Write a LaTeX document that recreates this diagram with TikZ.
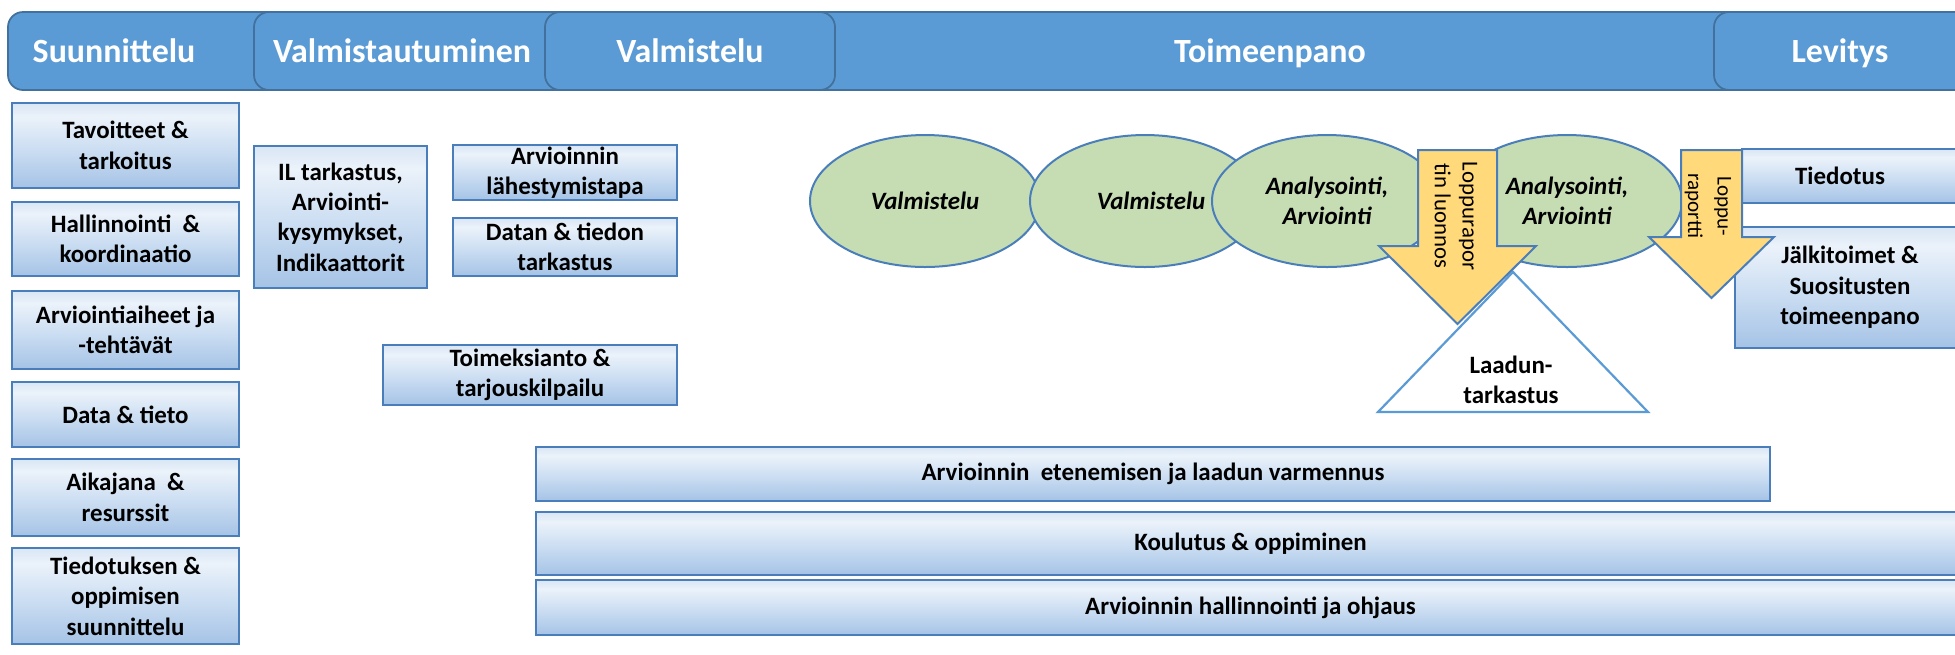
\documentclass[tikz,border=0pt]{standalone}
\usepackage{fontspec}
\setmainfont{Carlito}
\usetikzlibrary{shapes.geometric}
\newlength\pxl
\setlength\pxl{0.02cm}
\definecolor{hdr}{HTML}{5B9BD5}
\definecolor{hdrline}{HTML}{41719C}
\definecolor{boxline}{HTML}{4A7EBB}
\definecolor{gbot}{HTML}{A5C3E6}
\definecolor{gmid}{HTML}{CFE0F3}
\definecolor{glight}{HTML}{EBF2FA}
\definecolor{gtop}{HTML}{D9E6F5}
\definecolor{ellfill}{HTML}{C6DDB4}
\definecolor{arrfill}{HTML}{FFD97A}
\definecolor{triline}{HTML}{5B9BD5}
\pgfdeclareverticalshading{boxgrad}{100bp}{color(0bp)=(gbot); color(25bp)=(gbot); color(50bp)=(gmid); color(67bp)=(glight); color(75bp)=(gtop); color(100bp)=(gtop)}
\newcommand\bodyfont{\fontsize{14.2pt}{17.3pt}\selectfont\bfseries}
\newcommand\hdrfont{\fontsize{19.3pt}{23pt}\selectfont\bfseries}
\newcommand\arrfont{\fontsize{13pt}{15.9pt}\selectfont}
\newcommand\arrfontb{\fontsize{12pt}{16.8pt}\selectfont}
\begin{document}
\begin{tikzpicture}[x=0.02cm, y=-0.02cm,
  tab/.style={draw=hdrline, line width=1pt, fill=hdr, rounded corners=0.3cm},
  hdrtext/.style={text=white, font=\hdrfont, anchor=base, inner sep=0pt},
  box/.style={draw=boxline, line width=2.2\pxl, shade, shading=boxgrad, inner sep=0pt, align=center, font=\bodyfont},
  ell/.style={ellipse, draw=boxline, line width=2\pxl, fill=ellfill, minimum width=230\pxl, minimum height=132\pxl, inner sep=0pt, align=center, font=\bodyfont\itshape},
  yarrow/.style={draw=boxline, line width=2\pxl, fill=arrfill, line join=miter},
  tri/.style={draw=triline, line width=2.2\pxl, fill=white},
  lbl/.style={font=\bodyfont, align=center, inner sep=0pt}
]
\useasboundingbox (0,0) rectangle (1955,654);
\fill[white] (0,0) rectangle (1955,654);
\clip (0,0) rectangle (1955,654);

% header tabs
\path[tab] (8,12) rectangle (320,90);
\path[tab] (254,12) rectangle (600,90);
\path[tab] (700,12) rectangle (1980,90);
\path[tab] (545,12) rectangle (835,90);
\path[tab] (1714,12) rectangle (1980,90);
\node[hdrtext] (h1) at (114,62) {Suunnittelu};
\node[hdrtext] (h2) at (402,62) {Valmistautuminen};
\node[hdrtext] (h3) at (690,62) {Valmistelu};
\node[hdrtext] (h4) at (1270,62) {Toimeenpano};
\node[hdrtext] (h5) at (1840,62) {Levitys};

% left column
\node[box, minimum width=227\pxl, minimum height=85\pxl] (tav) at (125.5,145.5) {Tavoitteet \&\\tarkoitus};
\node[box, minimum width=227\pxl, minimum height=74\pxl] (hal) at (125.5,239) {Hallinnointi\ \ \&\\koordinaatio};
\node[box, minimum width=227\pxl, minimum height=78\pxl] (arv) at (125.5,330) {Arviointiaiheet ja\\-tehtävät};
\node[box, minimum width=227\pxl, minimum height=65\pxl] (dat) at (125.5,414.5) {Data \& tieto};
\node[box, minimum width=227\pxl, minimum height=77\pxl] (aik) at (125.5,497.5) {Aikajana\ \ \&\\resurssit};
\node[box, minimum width=227\pxl, minimum height=96\pxl] (tie) at (125.5,596) {Tiedotuksen \&\\oppimisen\\suunnittelu};

% preparation boxes
\node[box, minimum width=173\pxl, minimum height=142\pxl] (il) at (340.5,217) {IL tarkastus,\\Arviointi-\\kysymykset,\\Indikaattorit};
\node[box, minimum width=224\pxl, minimum height=55\pxl] (lah) at (565,172.5) {Arvioinnin\\lähestymistapa};
\node[box, minimum width=224\pxl, minimum height=58\pxl] (dtt) at (565,247) {Datan \& tiedon\\tarkastus};
\node[box, minimum width=294\pxl, minimum height=60\pxl] (tmk) at (530,375) {Toimeksianto \&\\tarjouskilpailu};

% ellipses
\node[ell] (e1) at (925,201) {Valmistelu};
\node[ell] (e2) at (1145,201) {\hspace*{12\pxl}Valmistelu};
\node[ell] (e3) at (1327,201) {Analysointi,\\Arviointi};

% triangle
\draw[tri] (1513,272) -- (1648,412) -- (1378,412) -- cycle;
\node[lbl] (lt) at (1511,380) {Laadun-\\tarkastus};

\node[ell] (e4) at (1567,201) {Analysointi,\\Arviointi};

% arrow 1
\draw[yarrow] (1418,150) -- (1497,150) -- (1497,246) -- (1536,246) -- (1457.5,324) -- (1379,246) -- (1418,246) -- cycle;
\node[rotate=-90, align=center, font=\arrfont, inner sep=0pt] (a1t) at (1456,216) {Loppurapor\\tin luonnos};

% right boxes
\node[box, minimum width=226\pxl, minimum height=54\pxl] (tdt) at (1855,176) {};
\node[lbl] (tdtt) at (1840,176) {Tiedotus};
\node[box, minimum width=230\pxl, minimum height=121\pxl] (jal) at (1850,287.5) {Jälkitoimet \&\\Suositusten\\toimeenpano};

% arrow 2
\draw[yarrow] (1681,150) -- (1742,150) -- (1742,237) -- (1774,237) -- (1711.5,298) -- (1649,237) -- (1681,237) -- cycle;
\node[rotate=-90, align=center, font=\arrfontb, inner sep=0pt] (a2t) at (1708,206) {Loppu-\\raportti};

% bottom bars
\node[box, minimum width=1234\pxl, minimum height=54\pxl] (b1) at (1153,474) {Arvioinnin\ \ etenemisen ja laadun varmennus};
\node[box, minimum width=1429\pxl, minimum height=63\pxl] (b2) at (1250.5,543.5) {Koulutus \& oppiminen};
\node[box, minimum width=1429\pxl, minimum height=55\pxl] (b3) at (1250.5,607.5) {Arvioinnin hallinnointi ja ohjaus};
\end{tikzpicture}
\end{document}
